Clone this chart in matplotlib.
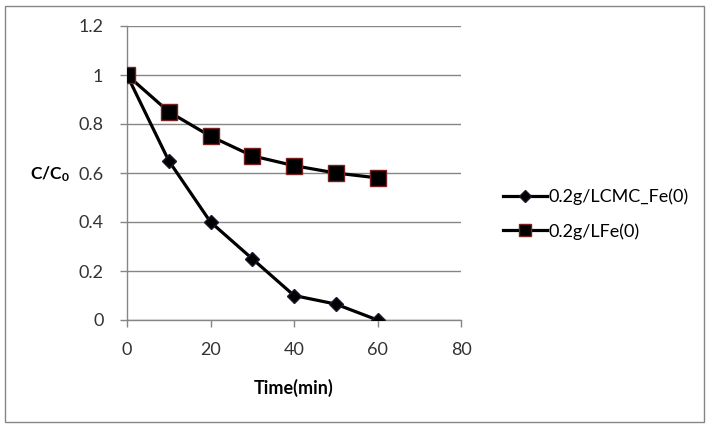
import matplotlib
matplotlib.use("Agg")
import matplotlib.pyplot as plt
from matplotlib.patches import Rectangle

plt.rcParams['font.family'] = ['Lato', 'DejaVu Sans']
plt.rcParams['mathtext.fontset'] = 'custom'
plt.rcParams['mathtext.bf'] = 'Lato:bold'
plt.rcParams['mathtext.rm'] = 'Lato'

time = [0, 10, 20, 30, 40, 50, 60]
cmc_fe = [1.0, 0.65, 0.40, 0.25, 0.10, 0.065, 0.0]
fe = [1.0, 0.85, 0.75, 0.67, 0.63, 0.60, 0.58]
labels = ["0.2g/LCMC_Fe(0)", "0.2g/LFe(0)"]
xticks = [0, 20, 40, 60, 80]
yticks = [0, 0.2, 0.4, 0.6, 0.8, 1.0, 1.2]
yticklabels = ["0", "0.2", "0.4", "0.6", "0.8", "1", "1.2"]

fig = plt.figure(figsize=(7.12, 4.30), dpi=100)
fig.patches.append(Rectangle((5/712, 8/430), 699/712, 416/430, transform=fig.transFigure,
                             fill=False, edgecolor='#868686', linewidth=1.0))
ax = fig.add_axes([127/712, 110/430, 334/712, 294/430])
grey = '#868686'
ax.plot(time, cmc_fe, color='black', lw=2.3, marker='D', markersize=7.5,
        markerfacecolor='black', markeredgecolor='#1a1a2e', label=labels[0], zorder=3)
ax.plot(time, fe, color='black', lw=2.3, marker='s', markersize=11,
        markerfacecolor='black', markeredgecolor='#7a1f1f', markeredgewidth=1.0,
        label=labels[1], zorder=3)
ax.set_xlim(0, 80)
ax.set_ylim(0, 1.2)
ax.set_xticks(xticks)
ax.set_yticks(yticks)
ax.set_yticklabels(yticklabels)
ax.yaxis.grid(True, color=grey, lw=1.0)
ax.set_axisbelow(True)
for s in ['top', 'right']:
    ax.spines[s].set_visible(False)
for s in ['left', 'bottom']:
    ax.spines[s].set_color(grey)
    ax.spines[s].set_linewidth(1.0)
ax.tick_params(axis='both', colors=grey, labelcolor='#333333', labelsize=13,
               length=5, width=1.0, direction='out')
ax.tick_params(axis='x', pad=11)
ax.tick_params(axis='y', pad=12)
ax.set_xlabel('Time(min)', fontsize=13, fontweight='bold', labelpad=15, color='black')
fig.text(50/712, 1 - 174/430, r'$\mathbf{C/C_0}$', fontsize=12.5, ha='center', va='center')
ax.legend(loc='center left', bbox_to_anchor=(1.105, 0.36), frameon=False, fontsize=13,
          handlelength=2.4, handletextpad=0.1, labelspacing=1.0, borderaxespad=0,
          markerscale=0.8)
fig.savefig('out.png', dpi=100)
